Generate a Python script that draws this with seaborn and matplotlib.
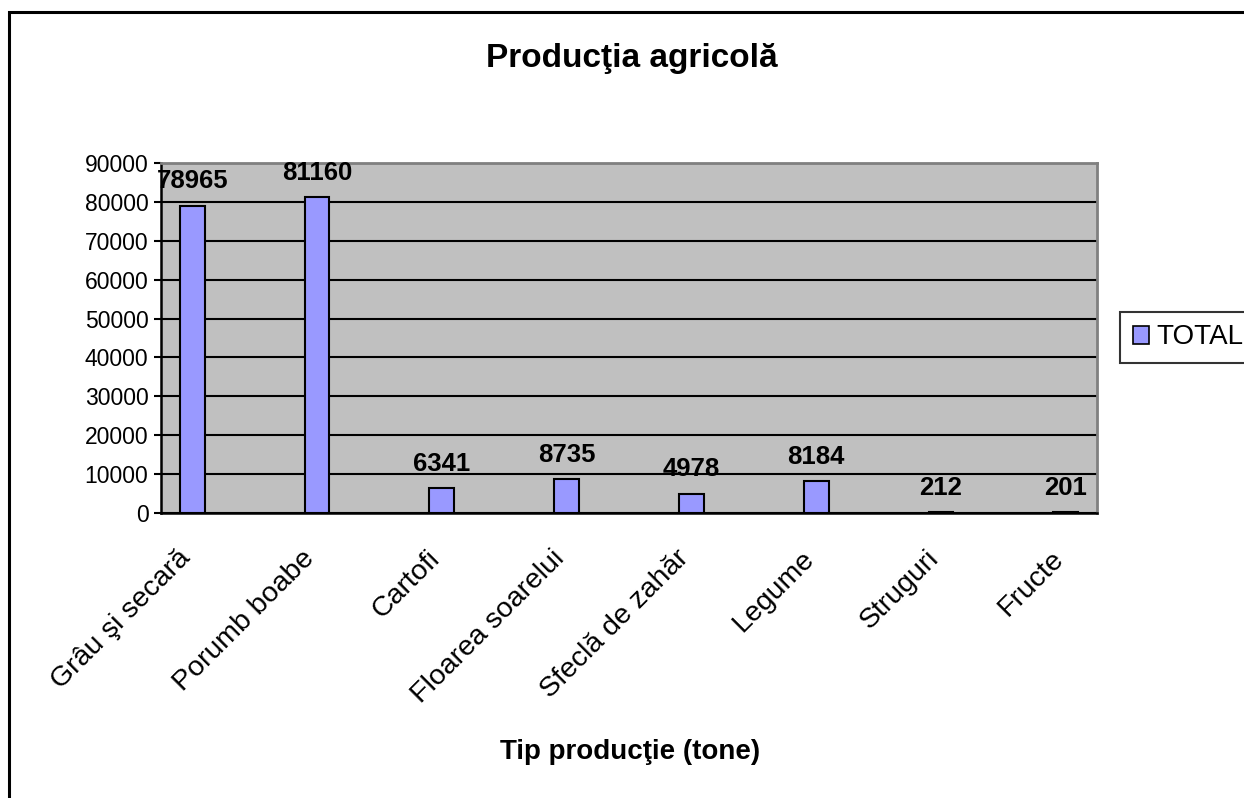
import numpy as np
import pandas as pd
import matplotlib
matplotlib.use("Agg")
import matplotlib.pyplot as plt
import matplotlib.patches as mpatches
import seaborn as sns

# data
categories = ["Grâu şi secară", "Porumb boabe", "Cartofi", "Floarea soarelui",
              "Sfeclă de zahăr", "Legume", "Struguri", "Fructe"]
tone = [78965, 81160, 6341, 8735, 4978, 8184, 212, 201]
y_ticks = [0, 10000, 20000, 30000, 40000, 50000, 60000, 70000, 80000, 90000]
series_name = "TOTAL"

BAR_COLOR = "#9999FF"
PLOT_BG = "#C0C0C0"

sns.set_theme(style="white")
plt.rcParams["font.family"] = ["Liberation Sans", "DejaVu Sans"]
plt.rcParams["text.color"] = "black"
plt.rcParams["xtick.color"] = "black"
plt.rcParams["ytick.color"] = "black"
plt.rcParams["axes.labelcolor"] = "black"

df = pd.DataFrame({"tip": categories, "tone": tone})

# Excel-style layout: every category is followed by an empty slot
slot_order = []
for i, name in enumerate(categories):
    slot_order.append(name)
    if i < len(categories) - 1:
        slot_order.append(f"_gap{i}")

fig = plt.figure(figsize=(12.44, 7.98), dpi=100)
ax = fig.add_axes([161 / 1244, 1 - 513 / 798, 936 / 1244, 350 / 798])
ax.set_facecolor(PLOT_BG)

sns.barplot(data=df, x="tip", y="tone", order=slot_order, color=BAR_COLOR,
            saturation=1, edgecolor="black", linewidth=1.5, width=0.4, ax=ax)

# value labels above bars
ax.bar_label(ax.containers[0], labels=[str(v) for v in tone], padding=9,
             fontsize=18.5, fontweight="bold", color="black")

# axes
ax.set_ylim(y_ticks[0], y_ticks[-1])
ax.set_yticks(y_ticks)
ax.set_yticklabels([str(t) for t in y_ticks], fontsize=16.5)
ax.yaxis.grid(True, color="black", linewidth=1.5)
ax.set_axisbelow(True)

ax.set_xlim(-0.5, len(slot_order) - 0.5)
# label anchors sit a little left of the bar centres, as in the original
ax.set_xticks(np.arange(len(slot_order)) - 0.1)
ax.set_xticklabels([s if not s.startswith("_gap") else "" for s in slot_order],
                   rotation=45, ha="right", va="center", rotation_mode="anchor",
                   fontsize=20.5)
ax.set_xticks(np.arange(-0.5, len(slot_order)), minor=True)
ax.tick_params(axis="x", which="major", length=0, pad=30)
ax.tick_params(axis="x", which="minor", length=7, width=1.5, color="black",
               direction="out")
ax.tick_params(axis="y", length=5, width=1.5, color="black", direction="out",
               left=True, pad=4)
ax.set_xlabel("")
ax.set_ylabel("")

for side in ["left", "bottom"]:
    ax.spines[side].set_color("black")
    ax.spines[side].set_linewidth(1.8)
for side in ["top", "right"]:
    ax.spines[side].set_color("#808080")
    ax.spines[side].set_linewidth(2)

# legend
handle = mpatches.Patch(facecolor=BAR_COLOR, edgecolor="black", linewidth=1.2,
                        label=series_name)
leg = fig.legend(handles=[handle], loc="upper left",
                 bbox_to_anchor=(1120 / 1244, 1 - 312 / 798),
                 frameon=True, fancybox=False, fontsize=20,
                 handlelength=0.6, handleheight=0.6, handletextpad=0.25,
                 borderpad=0.45, borderaxespad=0)
leg.get_frame().set_edgecolor("black")
leg.get_frame().set_linewidth(1.5)

# titles
fig.text(632 / 1244, 1 - 58 / 798, "Producţia agricolă", ha="center",
         va="center", fontsize=24, fontweight="bold")
fig.text(630 / 1244, 1 - 752 / 798, "Tip producţie (tone)", ha="center",
         va="center", fontsize=20, fontweight="bold")

# chart area border (runs off the right and bottom edges)
fig.patches.append(mpatches.Rectangle((9 / 1244, -0.05), 1.2, 1 - 12 / 798 + 0.05,
                                      transform=fig.transFigure, fill=False,
                                      edgecolor="black", linewidth=2.2))

fig.savefig("out.png", dpi=100)
